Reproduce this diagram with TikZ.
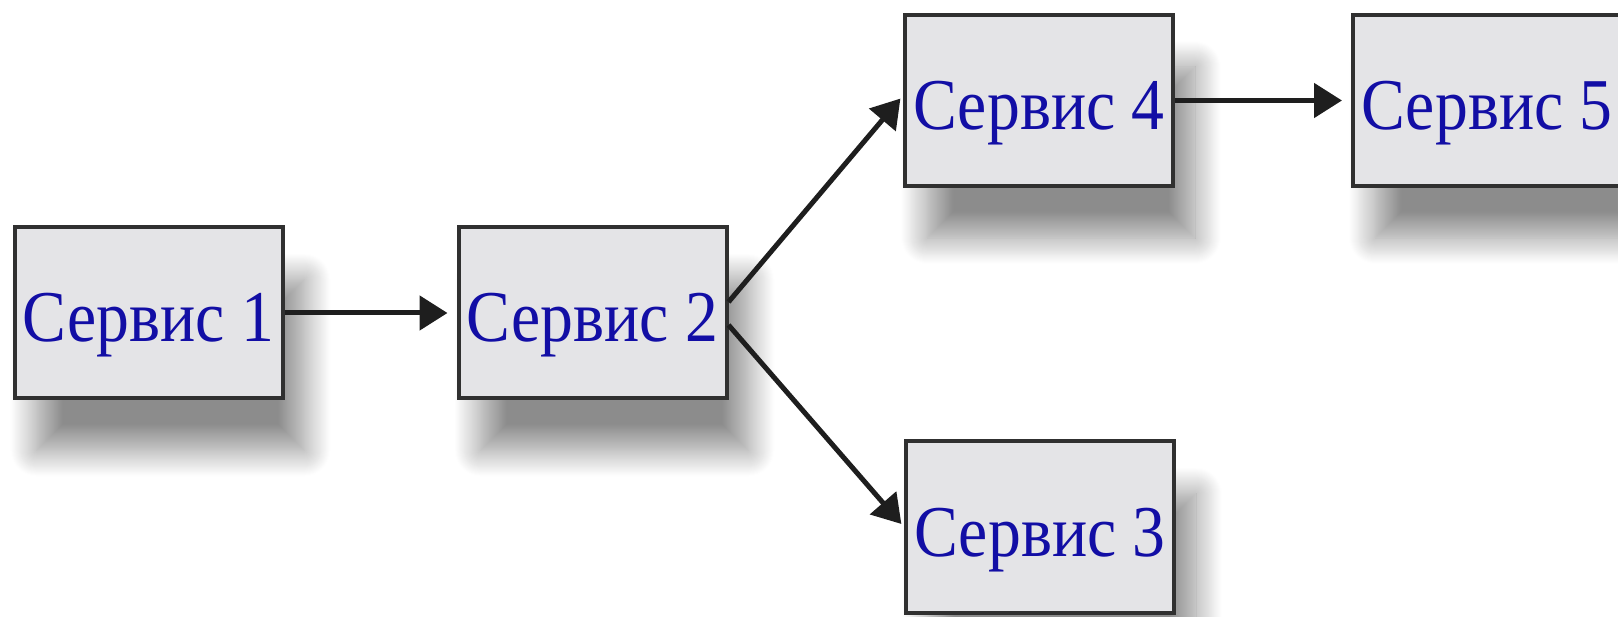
\documentclass[tikz,border=0pt]{standalone}
\usepackage{fontspec}
\usepackage{graphicx}
\setmainfont{Liberation Serif}
\usetikzlibrary{arrows.meta,shadows.blur}

\definecolor{boxfill}{RGB}{228,228,231}
\definecolor{boxline}{RGB}{48,48,48}
\definecolor{labelblue}{RGB}{18,14,165}
\definecolor{linkcol}{RGB}{30,30,30}

% narrow, tall service captions
\newcommand\svclabel[1]{\scalebox{0.9}[1]{#1}}

\tikzset{
  service/.style={
    draw=boxline, line width=4pt, fill=boxfill,
    minimum width=268pt, minimum height=171pt, inner sep=0pt,
    text height=62pt, text depth=4pt,
    text=labelblue, font=\fontsize{73}{76}\selectfont,
    blur shadow={shadow xshift=22pt, shadow yshift=-52pt,
                 shadow blur radius=26pt, shadow blur steps=28,
                 shadow opacity=45}
  },
  link/.style={
    draw=linkcol, line width=5pt,
    -{Triangle[length=28pt,width=34pt]}
  }
}

\begin{document}
\begin{tikzpicture}[x=1pt,y=-1pt]
  \useasboundingbox (0,0) rectangle (1618,617);
  \clip (0,0) rectangle (1618,617);

  \node[service] (s1) at (148.5,313)  {\svclabel{Сервис 1}};
  \node[service] (s2) at (592.5,313)  {\svclabel{Сервис 2}};
  \node[service] (s4) at (1039,100.5) {\svclabel{Сервис 4}};
  \node[service] (s5) at (1487,100.5) {\svclabel{Сервис 5}};
  \node[service] (s3) at (1040,527)   {\svclabel{Сервис 3}};

  \draw[link, shorten >=9pt] (s1.east) -- (s2.west);
  \draw[link, shorten >=4pt] ([yshift=11pt]s2.east) -- ([yshift=5pt]s4.west);
  \draw[link, shorten >=4pt] ([yshift=-12pt]s2.east) -- (s3.west);
  \draw[link, shorten >=9pt] (s4.east) -- (s5.west);
\end{tikzpicture}
\end{document}
